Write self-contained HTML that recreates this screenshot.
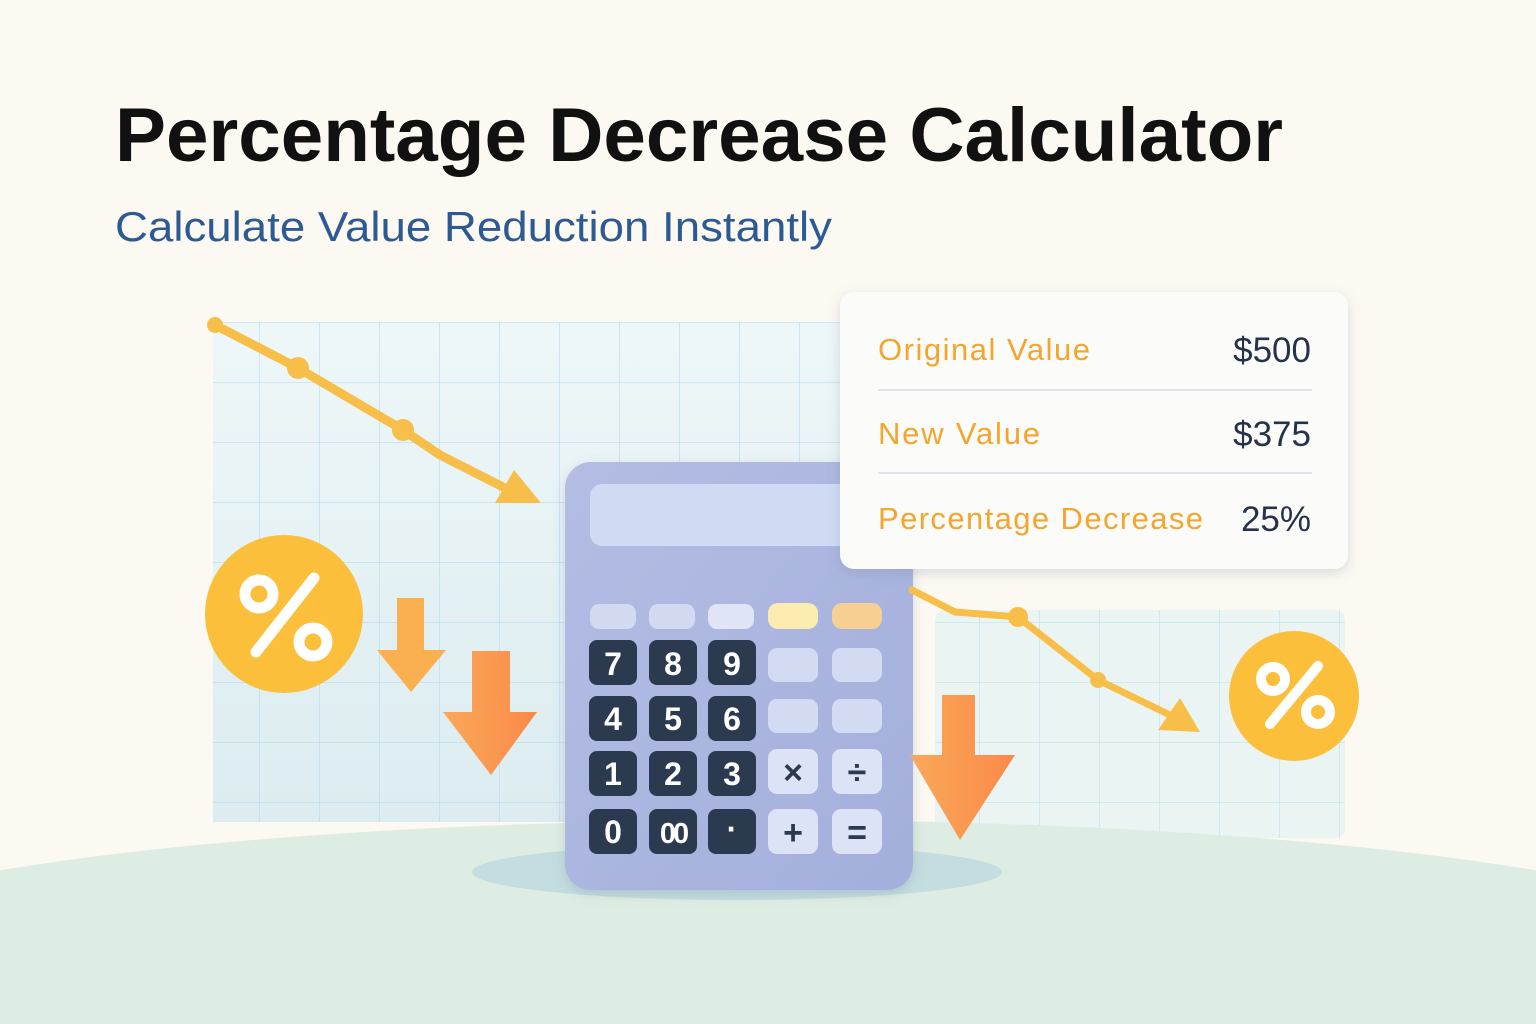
<!DOCTYPE html>
<html><head><meta charset="utf-8"><style>
html,body{margin:0;padding:0;background:#fcf9f2;width:1536px;height:1024px;overflow:hidden}
svg{display:block}
</style></head><body>
<svg width="1536" height="1024" viewBox="0 0 1536 1024" xmlns="http://www.w3.org/2000/svg">
<defs>
<pattern id="grid" x="200" y="322" width="60" height="60" patternUnits="userSpaceOnUse">
<rect width="60" height="60" fill="none"/>
<path d="M60 0V60M0 0H60" stroke="#b9dcef" stroke-width="1.3" fill="none"/>
</pattern>
<linearGradient id="pan" x1="0" y1="0" x2="0" y2="1"><stop offset="0" stop-color="#eef7f8"/><stop offset="1" stop-color="#dcecf0"/></linearGradient>
<linearGradient id="calc" x1="0" y1="0" x2="1" y2="1"><stop offset="0" stop-color="#b4bde3"/><stop offset="1" stop-color="#a3afdc"/></linearGradient>
<linearGradient id="org" x1="0" y1="0" x2="1" y2="0"><stop offset="0" stop-color="#fba85a"/><stop offset="1" stop-color="#f98a48"/></linearGradient>
<filter id="sh" x="-10%" y="-10%" width="120%" height="130%"><feDropShadow dx="0" dy="4" stdDeviation="6" flood-color="#6a7a90" flood-opacity="0.25"/></filter>
</defs>
<rect width="1536" height="1024" fill="#fcf9f2"/>
<!-- panels -->
<rect x="213" y="322" width="630" height="500" fill="url(#pan)"/>
<rect x="213" y="322" width="630" height="500" fill="url(#grid)"/>
<rect x="935" y="610" width="410" height="228" rx="10" fill="#eaf4f3"/>
<rect x="935" y="610" width="410" height="228" fill="url(#grid)" opacity="0.8"/>
<!-- ground -->
<ellipse cx="768" cy="960" rx="1000" ry="140" fill="#deede3"/>
<rect x="0" y="950" width="1536" height="74" fill="#deede3"/>
<ellipse cx="737" cy="872" rx="265" ry="28" fill="#c3dde0"/>
<!-- top line -->
<polyline points="215,325 298,368 403,430 440,455 505,488" fill="none" stroke="#f7bf4a" stroke-width="9" stroke-linecap="round" stroke-linejoin="round"/>
<circle cx="215" cy="325" r="8" fill="#f7bf4a"/>
<circle cx="298" cy="368" r="11" fill="#f7bf4a"/>
<circle cx="403" cy="430" r="11" fill="#f7bf4a"/>
<polygon points="495,503 541,503 514,470" fill="#f7bf4a"/>
<!-- percent left -->
<circle cx="284" cy="614" r="79" fill="#fbbf3c"/>
<g stroke="#fff" stroke-width="11" fill="none" stroke-linecap="round">
<circle cx="259" cy="594" r="14"/><circle cx="313" cy="642" r="14"/><line x1="314" y1="578" x2="256" y2="652"/></g>
<!-- arrows left -->
<polygon points="397,598 424,598 424,650 446,650 411,692 377,650 397,650" fill="#fbb050"/>
<polygon points="472,651 510,651 510,712 537,712 491,775 443,712 472,712" fill="url(#org)"/>
<!-- calculator -->
<rect x="565" y="462" width="348" height="428" rx="26" fill="url(#calc)" filter="url(#sh)"/>
<rect x="590" y="484" width="300" height="62" rx="12" fill="#d0dbf3"/>
<g>
<rect x="590" y="604" width="46" height="25" rx="9" fill="#d1daf0"/>
<rect x="649" y="604" width="46" height="25" rx="9" fill="#d1daf0"/>
<rect x="708" y="604" width="46" height="25" rx="9" fill="#dfe5f6"/>
<rect x="768" y="603" width="50" height="26" rx="10" fill="#fdecb0"/>
<rect x="832" y="603" width="50" height="26" rx="10" fill="#f8cf93"/>
</g>
<g fill="#2c3a50">
<rect x="589" y="640" width="48" height="45" rx="8"/><rect x="649" y="640" width="48" height="45" rx="8"/><rect x="708" y="640" width="48" height="45" rx="8"/>
<rect x="589" y="696" width="48" height="45" rx="8"/><rect x="649" y="696" width="48" height="45" rx="8"/><rect x="708" y="696" width="48" height="45" rx="8"/>
<rect x="589" y="751" width="48" height="45" rx="8"/><rect x="649" y="751" width="48" height="45" rx="8"/><rect x="708" y="751" width="48" height="45" rx="8"/>
<rect x="589" y="809" width="48" height="45" rx="8"/><rect x="649" y="809" width="48" height="45" rx="8"/><rect x="708" y="809" width="48" height="45" rx="8"/>
</g>
<g fill="#d3dbf3">
<rect x="768" y="648" width="50" height="34" rx="9"/><rect x="832" y="648" width="50" height="34" rx="9"/>
<rect x="768" y="699" width="50" height="34" rx="9"/><rect x="832" y="699" width="50" height="34" rx="9"/>
<rect x="768" y="749" width="50" height="45" rx="9" fill="#dde3f6"/><rect x="832" y="749" width="50" height="45" rx="9" fill="#dde3f6"/>
<rect x="768" y="809" width="50" height="45" rx="9" fill="#dde3f6"/><rect x="832" y="809" width="50" height="45" rx="9" fill="#dde3f6"/>
</g>
<g font-family="Liberation Sans, sans-serif" font-weight="bold" font-size="32" fill="#fff" text-anchor="middle">
<text x="613" y="675">7</text><text x="673" y="675">8</text><text x="732" y="675">9</text>
<text x="613" y="730">4</text><text x="673" y="730">5</text><text x="732" y="730">6</text>
<text x="613" y="785">1</text><text x="673" y="785">2</text><text x="732" y="785">3</text>
<text x="613" y="843">0</text><text x="673" y="843" font-size="29" letter-spacing="-3">00</text><text x="732" y="840">·</text>
</g>
<g font-family="Liberation Sans, sans-serif" font-weight="bold" font-size="34" fill="#2c3a50" text-anchor="middle">
<text x="793" y="784">×</text><text x="857" y="784">÷</text><text x="793" y="844">+</text><text x="857" y="844">=</text>
</g>
<!-- right line -->
<polyline points="912,590 955,612 1018,617 1098,680 1170,715" fill="none" stroke="#f7bf4a" stroke-width="7" stroke-linecap="round" stroke-linejoin="round"/>
<circle cx="1018" cy="617" r="10" fill="#f7bf4a"/>
<circle cx="1098" cy="680" r="8" fill="#f7bf4a"/>
<polygon points="1158,730 1200,732 1180,698" fill="#f7bf4a"/>
<polygon points="942,695 975,695 975,755 1015,755 960,840 910,755 942,755" fill="url(#org)"/>
<circle cx="1294" cy="696" r="65" fill="#fbbf3c"/>
<g stroke="#fff" stroke-width="10" fill="none" stroke-linecap="round">
<circle cx="1273" cy="679" r="12"/><circle cx="1318" cy="712" r="12"/><line x1="1318" y1="666" x2="1270" y2="724"/></g>
<!-- card -->
<rect x="840" y="292" width="508" height="277" rx="14" fill="#fbfbf9" filter="url(#sh)"/>
<line x1="878" y1="390" x2="1312" y2="390" stroke="#d8dde6" stroke-width="1.5"/>
<line x1="878" y1="473" x2="1312" y2="473" stroke="#d8dde6" stroke-width="1.5"/>
<g font-family="Liberation Sans, sans-serif" font-size="31" fill="#f5a42c">
<text x="878" y="360" textLength="212">Original Value</text>
<text x="878" y="444" textLength="162">New Value</text>
<text x="878" y="529" textLength="325">Percentage Decrease</text>
</g>
<g font-family="Liberation Sans, sans-serif" font-size="35" fill="#26324a" text-anchor="end">
<text x="1311" y="362">$500</text><text x="1311" y="446">$375</text><text x="1311" y="531">25%</text>
</g>
<!-- titles -->
<text x="115" y="161" font-family="Liberation Sans, sans-serif" font-weight="bold" font-size="76" fill="#111" textLength="1168" lengthAdjust="spacingAndGlyphs">Percentage Decrease Calculator</text>
<text x="115" y="241" font-family="Liberation Sans, sans-serif" font-size="42" fill="#2d5a92" textLength="717" lengthAdjust="spacingAndGlyphs">Calculate Value Reduction Instantly</text>
</svg>
</body></html>
